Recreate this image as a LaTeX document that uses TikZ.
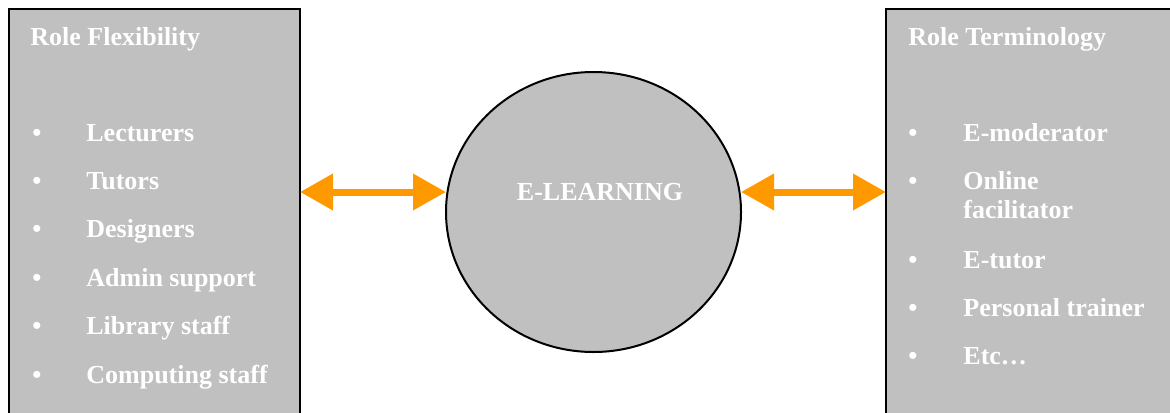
\documentclass[tikz,border=0pt]{standalone}
\usepackage{fontspec}
\setmainfont{Liberation Serif}
\usetikzlibrary{positioning,arrows.meta,shapes.geometric}
\definecolor{boxgray}{HTML}{C0C0C0}
\definecolor{arroworange}{HTML}{FF9900}

\begin{document}
\begin{tikzpicture}[
  x=0.5pt, y=-0.5pt,
  font=\fontsize{13}{14.5}\selectfont\bfseries,
  rolebox/.style={rectangle, draw=black, line width=1pt, fill=boxgray, anchor=north west, outer sep=0pt, minimum height=210pt},
  roletitle/.style={anchor=base west, inner sep=0pt, text=white},
  roleitem/.style={anchor=base west, inner sep=0pt, text=white, align=left},
  bul/.style={anchor=base west, inner sep=0pt, text=white},
  linkarrow/.style={{Triangle[length=16.5pt,width=17.5pt]}-{Triangle[length=16.5pt,width=17.5pt]}, draw=arroworange, fill=arroworange, line width=3.5pt}
]
  \useasboundingbox (0,0) rectangle (1170,412);

  % left and right boxes
  \node[rolebox, minimum width=145.5pt] (lbox) at (9,9) {};
  \node[rolebox, minimum width=150pt] (rbox) at (886,9) {};

  % centre
  \node[ellipse, draw=black, line width=1pt, fill=boxgray, minimum width=147.5pt, minimum height=140pt, outer sep=0pt] (elearn) at (593.5,212) {};
  \node[inner sep=0pt, text=white] (elab) at (600,192) {E-LEARNING};

  \node[roletitle] (ltitle) at (30,45) {Role Flexibility};
  \node[roletitle] (rtitle) at (908,45) {Role Terminology};

  % left list
  \foreach \y in {141,189,237,286,334,383}
    \node[bul] (lb\y) at (32,\y) {\textbullet};
  \node[roleitem] (lect) at (86,141) {Lecturers};
  \node[roleitem] (tut) at (86,189) {Tutors};
  \node[roleitem] (des) at (86,237) {Designers};
  \node[roleitem] (adm) at (86,286) {Admin support};
  \node[roleitem] (lib) at (86,334) {Library staff};
  \node[roleitem] (comp) at (86,383) {Computing staff};

  % right list
  \foreach \y in {141,189,268,316,364}
    \node[bul] (rb\y) at (908,\y) {\textbullet};
  \node[roleitem] (emod) at (963,141) {E-moderator};
  \node[roleitem] (onl) at (963,218) {Online\\facilitator};
  \node[roleitem] (etut) at (963,268) {E-tutor};
  \node[roleitem] (pers) at (963,316) {Personal trainer};
  \node[roleitem] (etc) at (963,364) {Etc…};

  \draw[linkarrow] (lbox.east |- elab) -- (elearn.west |- elab);
  \draw[linkarrow] (elearn.east |- elab) -- (rbox.west |- elab);
\end{tikzpicture}
\end{document}
